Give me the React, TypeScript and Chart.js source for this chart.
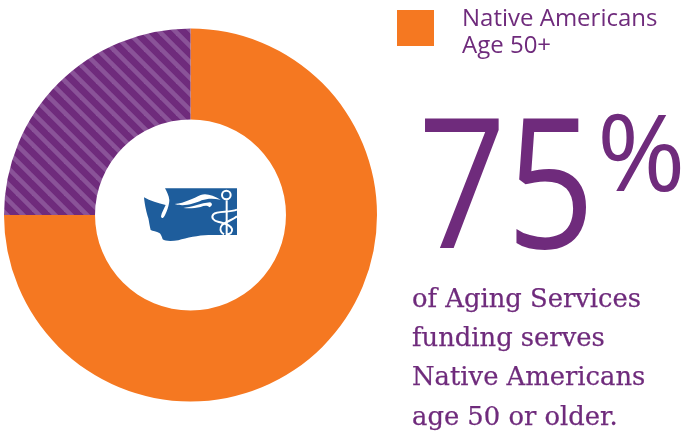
import { useEffect, useRef } from "react";
import { Chart, registerables } from "chart.js";

Chart.register(...registerables);

const shareLabels = ["Native Americans Age 50+", "Other"];
const shareValues = [75, 25];
const legendLines = ["Native Americans", "Age 50+"];
const headlineNumber = "75";
const headlineUnit = "%";
const captionLines = ["of Aging Services", "funding serves", "Native Americans", "age 50 or older."];

const ORANGE = "#f57821";
const PURPLE = "#6f2b7c";
const STRIPE = "#8a5398";
const EMBLEM = "#1e5d9c";

// Diagonal hatch tile that repeats seamlessly across the slice.
function makeHatch(): CanvasPattern | string {
  const size = 16;
  const tile = document.createElement("canvas");
  tile.width = size;
  tile.height = size;
  const ctx = tile.getContext("2d");
  if (!ctx) return PURPLE;
  ctx.fillStyle = PURPLE;
  ctx.fillRect(0, 0, size, size);
  ctx.strokeStyle = STRIPE;
  ctx.lineWidth = 4.6;
  for (const shift of [-size, 0, size]) {
    ctx.beginPath();
    ctx.moveTo(shift - 2, -2);
    ctx.lineTo(shift + size + 2, size + 2);
    ctx.stroke();
  }
  return ctx.createPattern(tile, "repeat") ?? PURPLE;
}

const pos = (left: number, top: number): React.CSSProperties => ({
  position: "absolute",
  left,
  top,
  whiteSpace: "nowrap",
  color: PURPLE,
  margin: 0,
});

export default function App() {
  const ref = useRef<HTMLCanvasElement>(null);

  useEffect(() => {
    if (!ref.current) return;
    const chart = new Chart(ref.current, {
      type: "doughnut",
      data: {
        labels: shareLabels,
        datasets: [
          {
            data: shareValues,
            backgroundColor: [ORANGE, makeHatch()],
            borderWidth: 0,
          },
        ],
      },
      options: {
        responsive: false,
        animation: false,
        cutout: "51.2%",
        layout: { padding: { left: 4, right: 309, top: 28, bottom: 31 } },
        plugins: { legend: { display: false }, tooltip: { enabled: false } },
      },
    });
    return () => chart.destroy();
  }, []);

  return (
    <div style={{ position: "absolute", left: 0, top: 0, width: 686, height: 433, overflow: "hidden", background: "#fff" }}>
      <canvas ref={ref} width={686} height={433} style={{ position: "absolute", left: 0, top: 0 }} />

      {/* Washington state emblem in the middle of the ring */}
      <svg width={120} height={70} viewBox="0 0 360 210" style={{ position: "absolute", left: 130, top: 175 }}>
        <path
          d="M105 40 L321 40 L321 180 L235 180 C205 181 170 188 145 196 C125 199 105 199 98 193 C95 183 92 176 88 174 C80 170 68 168 62 165 C58 150 57 138 55 130 C50 115 44 90 42 67 C60 78 85 85 107 90 C103 100 95 112 93 124 C94 130 99 132 103 124 C110 112 118 90 118 75 C117 62 110 50 105 40 Z"
          fill={EMBLEM}
        />
        {/* Wing feathers */}
        <path d="M134 87 C165 84 190 70 212 60 C230 54 250 62 272 74 C250 70 232 70 215 76 C195 86 160 96 134 87 Z" fill="#fff" />
        <path d="M160 99 C180 98 215 84 240 82 C250 86 246 94 238 97 C232 90 222 92 212 96 C195 100 175 101 160 99 Z" fill="#fff" />
        {/* Staff and serpents */}
        <g fill="none" stroke="#fff">
          <path d="M290 76 L290 180" strokeWidth={6} />
          <circle cx={289} cy={60} r={13} strokeWidth={6} />
          <path d="M321 104 C296 114 262 106 250 118 C242 128 252 138 264 140 C278 144 302 148 306 162 C308 172 300 178 290 178" strokeWidth={6} />
          <path d="M321 124 C310 134 288 140 276 150 C268 160 270 172 282 178" strokeWidth={6} />
        </g>
      </svg>

      {/* Legend */}
      <div style={{ position: "absolute", left: 397, top: 10, width: 37, height: 36, background: ORANGE }} />
      <div style={{ ...pos(462, 3), font: "400 24px/27px 'Open Sans', sans-serif" }}>
        {legendLines.map((line) => (
          <div key={line}>{line}</div>
        ))}
      </div>

      {/* Headline figure */}
      <div
        style={{
          ...pos(418, 66),
          font: "400 182px/222px 'Open Sans', sans-serif",
          transform: "scaleX(0.85)",
          transformOrigin: "left top",
        }}
      >
        {headlineNumber}
      </div>
      <div style={{ ...pos(597, 85), font: "400 107px/130px 'Open Sans', sans-serif" }}>{headlineUnit}</div>

      {/* Caption */}
      <div
        style={{
          ...pos(412, 279),
          font: "400 25.8px/39.2px 'DejaVu Serif', serif",
          WebkitTextStroke: "0.25px #6f2b7c",
        }}
      >
        {captionLines.map((line) => (
          <div key={line}>{line}</div>
        ))}
      </div>
    </div>
  );
}
